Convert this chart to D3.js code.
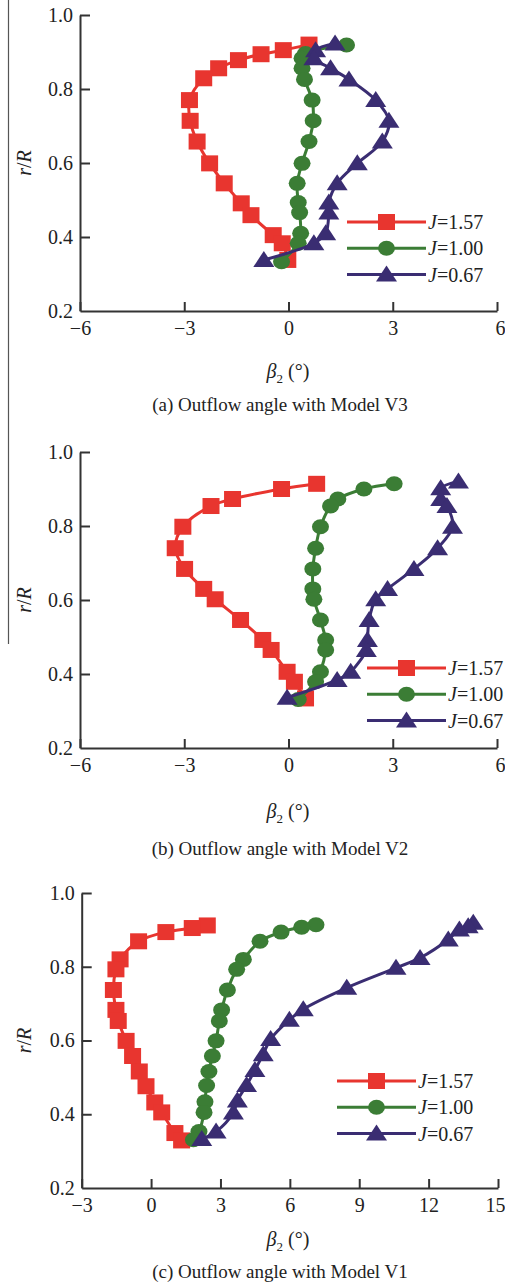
<!DOCTYPE html>
<html>
<script src="https://cdn.jsdelivr.net/npm/d3@7"></script>
<style>
  body {margin:0; background:#fff;}
  svg text {font-family:"Liberation Serif", "Times New Roman", serif; fill:#222;}
</style>
<body>
<svg width=505 height=1284></svg>
<script>
// series labels and colours
const labels = ["1.57", "1.00", "0.67"];
const colors = ["#e8352f", "#3b7d35", "#3a2d72"];
const yTicks = [0.2, 0.4, 0.6, 0.8, 1.0];

// panel (a) Model V3: [beta2, r/R]
const a157 = [[0.59,0.92],[-0.15,0.905],[-0.79,0.894],[-1.44,0.878],[-2.01,0.856],[-2.44,0.829],[-2.85,0.770],[-2.83,0.714],[-2.63,0.658],[-2.27,0.599],[-1.85,0.545],[-1.36,0.491],[-1.08,0.459],[-0.44,0.405],[-0.18,0.383],[-0.02,0.338]];
const a100 = [[1.67,0.919],[0.49,0.896],[0.39,0.883],[0.39,0.856],[0.46,0.826],[0.68,0.770],[0.71,0.714],[0.59,0.658],[0.39,0.599],[0.25,0.545],[0.28,0.493],[0.32,0.466],[0.35,0.410],[0.28,0.383],[-0.20,0.333]];
const a067 = [[1.34,0.923],[0.78,0.905],[0.73,0.883],[1.21,0.856],[1.74,0.826],[2.51,0.770],[2.89,0.714],[2.70,0.658],[1.98,0.599],[1.40,0.545],[1.16,0.493],[1.16,0.466],[1.07,0.410],[0.73,0.383],[-0.71,0.338]];

// panel (b) Model V2
const b157 = [[0.81,0.914],[-0.20,0.900],[-1.61,0.873],[-2.23,0.854],[-3.04,0.798],[-3.26,0.740],[-2.99,0.684],[-2.44,0.630],[-2.11,0.602],[-1.38,0.546],[-0.74,0.492],[-0.50,0.465],[-0.04,0.406],[0.17,0.379],[0.49,0.334]];
const b100 = [[3.04,0.914],[2.17,0.900],[1.42,0.873],[1.21,0.854],[0.92,0.798],[0.78,0.740],[0.70,0.684],[0.70,0.630],[0.73,0.602],[0.92,0.546],[1.07,0.492],[1.07,0.465],[0.92,0.406],[0.78,0.379],[0.28,0.331]];
const b067 = [[4.89,0.920],[4.38,0.902],[4.38,0.873],[4.56,0.854],[4.72,0.798],[4.29,0.740],[3.61,0.684],[2.85,0.630],[2.51,0.602],[2.32,0.546],[2.27,0.492],[2.24,0.465],[1.79,0.406],[1.40,0.384],[-0.04,0.336]];

// panel (c) Model V1
const c157 = [[2.43,0.912],[1.78,0.905],[0.64,0.894],[-0.54,0.869],[-1.34,0.820],[-1.52,0.793],[-1.63,0.737],[-1.52,0.683],[-1.42,0.653],[-1.08,0.599],[-0.80,0.558],[-0.51,0.516],[-0.22,0.476],[0.16,0.432],[0.46,0.405],[1.03,0.349],[1.32,0.329]];
const c100 = [[7.13,0.914],[6.51,0.907],[5.62,0.894],[4.71,0.869],[3.99,0.820],[3.70,0.793],[3.30,0.737],[3.05,0.683],[2.95,0.653],[2.81,0.599],[2.65,0.558],[2.50,0.516],[2.40,0.478],[2.33,0.434],[2.29,0.405],[2.07,0.353],[1.83,0.331]];
const c067 = [[13.93,0.919],[13.71,0.910],[13.33,0.901],[12.85,0.874],[11.63,0.824],[10.59,0.797],[8.46,0.743],[6.58,0.685],[5.98,0.656],[5.17,0.604],[4.85,0.563],[4.49,0.520],[4.13,0.479],[3.73,0.437],[3.56,0.405],[2.81,0.353],[2.19,0.333]];

const panels = [
  {series:[a157,a100,a067], xDom:[-6,6], xTicks:[-6,-3,0,3,6], x0:80, x1:497, top:15, bottom:311,
   legX:347, legY:222, labY:378, caption:"(a) Outflow angle with Model V3", capY:411},
  {series:[b157,b100,b067], xDom:[-6,6], xTicks:[-6,-3,0,3,6], x0:80, x1:497, top:452, bottom:748,
   legX:367, legY:668, labY:818, caption:"(b) Outflow angle with Model V2", capY:855},
  {series:[c157,c100,c067], xDom:[-3,15], xTicks:[-3,0,3,6,9,12,15], x0:81.7, x1:498, top:893, bottom:1188,
   legX:337, legY:1081, labY:1246, caption:"(c) Outflow angle with Model V1", capY:1278}
];

const svg = d3.select("svg");

// stray rule on the left of the page
svg.append("line").attr("x1", 8.5).attr("x2", 8.5).attr("y1", 0).attr("y2", 644)
  .attr("stroke", "#555").attr("stroke-width", 1.2);

const fmtX = d => d < 0 ? "\u2212" + Math.abs(d) : String(d);

function marker(g, i, cx, cy) {
  if (i === 0) {
    g.append("rect").attr("x", cx - 8.5).attr("y", cy - 8).attr("width", 17).attr("height", 16)
      .attr("fill", colors[i]);
  } else if (i === 1) {
    g.append("ellipse").attr("cx", cx).attr("cy", cy).attr("rx", 8.5).attr("ry", 7.5)
      .attr("fill", colors[i]);
  } else {
    g.append("path").attr("d", `M${cx},${cy - 9}L${cx + 10.5},${cy + 7}L${cx - 10.5},${cy + 7}Z`)
      .attr("fill", colors[i]);
  }
}

panels.forEach(p => {
  const x = d3.scaleLinear().domain(p.xDom).range([p.x0, p.x1]);
  const y = d3.scaleLinear().domain([0.2, 1.0]).range([p.bottom, p.top]);
  const g = svg.append("g");

  const yAxis = d3.axisLeft(y).tickValues(yTicks).tickFormat(d3.format(".1f"))
    .tickSizeInner(-10).tickSizeOuter(0).tickPadding(7);
  const xAxis = d3.axisBottom(x).tickValues(p.xTicks).tickFormat(fmtX)
    .tickSizeInner(-9).tickSizeOuter(0).tickPadding(10);

  const ya = g.append("g").attr("transform", `translate(${p.x0},0)`).call(yAxis);
  const xa = g.append("g").attr("transform", `translate(0,${p.bottom})`).call(xAxis);
  [ya, xa].forEach(a => {
    a.selectAll("path, line").attr("stroke", "#333").attr("stroke-width", 2);
    a.selectAll("text").attr("font-size", 20).attr("fill", "#222")
      .style("font-family", "'Liberation Serif', serif");
  });
  ya.selectAll(".tick").filter(d => d === 0.2).select("line").remove();
  // keep the last x label inside the page edge
  xa.selectAll(".tick text").filter(d => x(d) > 495).attr("text-anchor", "end").attr("x", 505 - x.range()[1]);

  // axis titles
  const yl = g.append("text")
    .attr("transform", `translate(${31},${y(0.6)}) rotate(-90)`)
    .attr("text-anchor", "middle").attr("font-size", 20);
  yl.append("tspan").attr("font-style", "italic").text("r");
  yl.append("tspan").text("/");
  yl.append("tspan").attr("font-style", "italic").text("R");

  const xl = g.append("text").attr("x", 288).attr("y", p.labY)
    .attr("text-anchor", "middle").attr("font-size", 20);
  xl.append("tspan").attr("font-style", "italic").text("\u03B2");
  xl.append("tspan").attr("font-size", 13).attr("dy", 5).text("2");
  xl.append("tspan").attr("dy", -5).text(" (\u00B0)");

  g.append("text").attr("x", 280).attr("y", p.capY).attr("text-anchor", "middle")
    .attr("font-size", 19).text(p.caption);

  // curves and markers
  const line = d3.line().x(d => x(d[0])).y(d => y(d[1])).curve(d3.curveCatmullRom.alpha(0.5));
  p.series.forEach((s, i) => {
    g.append("path").datum(s).attr("d", line).attr("fill", "none")
      .attr("stroke", colors[i]).attr("stroke-width", 3);
    s.forEach(d => marker(g, i, x(d[0]), y(d[1])));
  });

  // legend
  labels.forEach((lab, i) => {
    const ly = p.legY + i * 26.3;
    g.append("line").attr("x1", p.legX).attr("x2", p.legX + 79).attr("y1", ly).attr("y2", ly)
      .attr("stroke", colors[i]).attr("stroke-width", 3);
    marker(g, i, p.legX + 39.5, ly);
    const t = g.append("text").attr("x", p.legX + 81).attr("y", ly + 7).attr("font-size", 20);
    t.append("tspan").attr("font-style", "italic").text("J");
    t.append("tspan").text("=" + lab);
  });
});
</script>
</body>
</html>
